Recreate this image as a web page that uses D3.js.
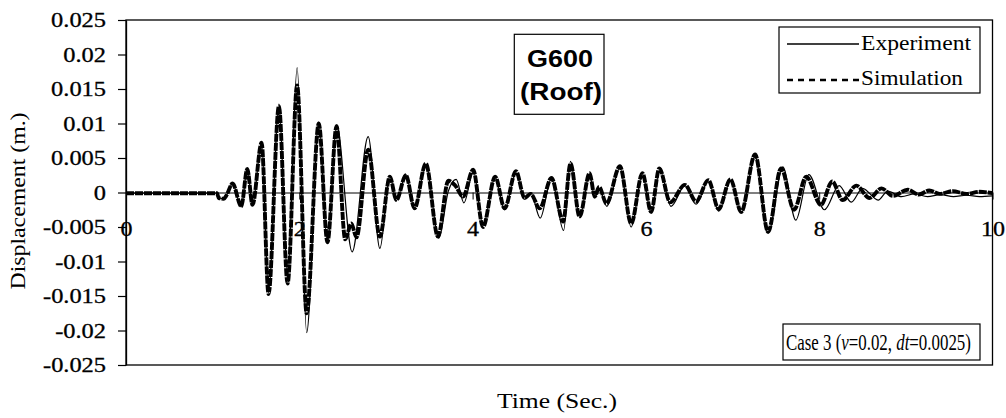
<!DOCTYPE html>
<html>
<head>
<meta charset="utf-8">
<script src="https://cdn.jsdelivr.net/npm/d3@7"></script>
<style>
  html, body { margin: 0; padding: 0; background: #fff; }
  svg { display: block; }
  text { font-family: "Liberation Serif", "Times New Roman", serif; fill: #000; }
</style>
</head>
<body>
<svg id="chart" width="1006" height="418"></svg>
<script>
// ---------- data ----------
const yTickVals = [0.025, 0.02, 0.015, 0.01, 0.005, 0, -0.005, -0.01, -0.015, -0.02, -0.025];
const yTickLabels = ["0.025", "0.02", "0.015", "0.01", "0.005", "0", "-0.005", "-0.01", "-0.015", "-0.02", "-0.025"];
const xTickVals = [0, 2, 4, 6, 8, 10];
const xTickLabels = ["0", "2", "4", "6", "8", "10"];

// Simulation (thick dashed) – turning points
const simTime = [0, 1.05, 1.07, 1.13, 1.16, 1.23, 1.33, 1.40, 1.46, 1.565, 1.645, 1.765, 1.865, 1.975, 2.085,
  2.225, 2.325, 2.43, 2.53, 2.60, 2.66, 2.795, 2.93, 3.045, 3.12, 3.23, 3.33, 3.46, 3.60, 3.72, 3.80, 3.89,
  4.006, 4.12, 4.26, 4.37, 4.50, 4.60, 4.67, 4.775, 4.91, 5.045, 5.13, 5.235, 5.35, 5.41, 5.46, 5.545,
  5.70, 5.83, 5.96, 6.06, 6.155, 6.28, 6.45, 6.58, 6.72, 6.84, 6.975, 7.10, 7.26, 7.41, 7.56, 7.71,
  7.85, 8.02, 8.15, 8.27, 8.43, 8.58, 8.72, 8.85, 9.02, 9.15, 9.27, 9.39, 9.54, 9.70, 9.85, 10];
const simDisp = [-0.0001, -0.0001, -0.0008, -0.0009, -0.0004, 0.0013, -0.0020, 0.0034, -0.0018, 0.0072, -0.0147, 0.0125, -0.0132, 0.0155, -0.0175,
  0.0100, -0.0072, 0.0096, -0.0068, -0.0045, -0.0065, 0.0062, -0.0064, 0.0023, -0.0011, 0.0025, -0.0023, 0.0042, -0.0064, 0.0017, 0.0010, -0.0006,
  0.0033, -0.0050, 0.0023, -0.0023, 0.0031, -0.0008, -0.0002, -0.0023, 0.0021, -0.0042, 0.0042, -0.0035, 0.0028, -0.0006, 0.0008, -0.0016,
  0.0038, -0.0045, 0.0028, -0.0028, 0.0035, -0.0014, 0.0011, -0.0013, 0.0018, -0.0024, 0.0019, -0.0028, 0.0055, -0.0057, 0.0035, -0.0025,
  0.0023, -0.0018, 0.0016, -0.0011, 0.0010, -0.0008, 0.0006, -0.0005, 0.0004, -0.0003, 0.0003, -0.0002, 0.0002, -0.0002, 0.0001, -0.0001];

// Experiment (thin solid)
const expTime = [0, 1.05, 1.07, 1.13, 1.16, 1.23, 1.33, 1.40, 1.46, 1.565, 1.645, 1.765, 1.865, 1.975, 2.085,
  2.225, 2.325, 2.43, 2.61, 2.795, 2.93, 3.045, 3.12, 3.23, 3.33, 3.46, 3.61, 3.72, 3.81, 3.90,
  4.01, 4.12, 4.26, 4.37, 4.50, 4.60, 4.67, 4.78, 4.91, 5.05, 5.13, 5.235, 5.35, 5.41, 5.46, 5.55,
  5.70, 5.83, 5.96, 6.06, 6.16, 6.29, 6.45, 6.58, 6.72, 6.84, 6.98, 7.10, 7.26, 7.41, 7.58, 7.73,
  7.88, 8.06, 8.23, 8.37, 8.50, 8.68, 8.79, 8.95, 9.10, 9.25, 9.40, 9.55, 9.70, 9.85, 10];
const expDisp = [-0.0001, -0.0001, -0.0008, -0.0009, -0.0004, 0.0013, -0.0021, 0.0035, -0.0018, 0.0073, -0.0145, 0.0128, -0.0123, 0.0181, -0.0203,
  0.0102, -0.0074, 0.0098, -0.0086, 0.0081, -0.0081, 0.0024, -0.0012, 0.0026, -0.0024, 0.0040, -0.0066, 0.0002, 0.0019, -0.0015,
  0.0031, -0.0048, 0.0022, -0.0025, 0.0029, -0.0010, 0.0000, -0.0037, 0.0020, -0.0055, 0.0045, -0.0036, 0.0027, -0.0008, 0.0006, -0.0020,
  0.0036, -0.0050, 0.0027, -0.0030, 0.0033, -0.0020, 0.0010, -0.0017, 0.0017, -0.0027, 0.0018, -0.0030, 0.0052, -0.0059, 0.0037, -0.0040,
  0.0026, -0.0025, 0.0010, -0.0014, 0.0006, -0.0011, 0.0002, -0.0006, -0.0002, -0.0006, -0.0003, -0.0006, -0.0004, -0.0006, -0.0005];

const seriesNames = ["Experiment", "Simulation"];
const titleLines = ["G600", "(Roof)"];
const xTitle = "Time (Sec.)";
const yTitle = "Displacement (m.)";

// ---------- layout ----------
const L = 126, R = 992.5, T = 20, B = 365;
const svg = d3.select("#chart");
const x = d3.scaleLinear().domain([0, 10]).range([L, R]);
const y = d3.scaleLinear().domain([-0.025, 0.025]).range([B, T]);

// fit a text horizontally to a target width
function fitX(sel, x0, y0, width, anchor) {
  const w = sel.node().getComputedTextLength();
  const s = width / w;
  const dx = anchor === "middle" ? -width / 2 : 0;
  sel.attr("transform", `translate(${x0 + dx},${y0}) scale(${s},1)`);
}

// frame
svg.append("rect").attr("x", L).attr("y", T).attr("width", R - L).attr("height", B - T)
  .attr("fill", "none").attr("stroke", "#000").attr("stroke-width", 1.3);

// y axis
const yAxis = svg.append("g").attr("transform", `translate(${L},0)`)
  .call(d3.axisLeft(y).tickValues(yTickVals).tickSize(8).tickSizeOuter(0)
    .tickFormat((d, i) => yTickLabels[i]));
yAxis.select(".domain").attr("stroke-width", 1.3);
yAxis.selectAll(".tick line").attr("stroke-width", 1.2);
yAxis.selectAll(".tick text")
  .attr("x", null).attr("dy", "0.34em")
  .attr("text-anchor", "end")
  .attr("transform", "translate(-20,0) scale(1.22,1)")
  .attr("stroke", "#000").attr("stroke-width", 0.3)
  .style("font-family", "'Liberation Serif', serif").style("font-size", "20px");

// x axis on the zero line
const xAxis = svg.append("g").attr("transform", `translate(0,${y(0)})`)
  .call(d3.axisBottom(x).tickValues(xTickVals).tickSize(7).tickSizeOuter(0)
    .tickFormat((d, i) => xTickLabels[i]));
xAxis.select(".domain").attr("stroke-width", 1);
xAxis.selectAll(".tick text")
  .attr("y", null).attr("dy", null)
  .attr("text-anchor", "middle")
  .attr("transform", `translate(0,${236 - y(0)}) scale(1.2,1)`)
  .attr("stroke", "#000").attr("stroke-width", 0.3)
  .style("font-family", "'Liberation Serif', serif").style("font-size", "20px");

// series
const line = d3.line().x(d => x(d[0])).y(d => y(d[1])).curve(d3.curveMonotoneX);
const simData = simTime.map((t, i) => [t, simDisp[i]]);
const expData = expTime.map((t, i) => [t, expDisp[i]]);

svg.append("path").datum(simData).attr("d", line)
  .attr("fill", "none").attr("stroke", "#000").attr("stroke-width", 3.9)
  .attr("stroke-dasharray", "8,1").attr("stroke-linejoin", "round");
svg.append("path").datum(expData).attr("d", line)
  .attr("fill", "none").attr("stroke", "#000").attr("stroke-width", 1.2)
  .attr("stroke-linejoin", "round");

// axis titles
svg.append("text").attr("x", 557).attr("y", 408).attr("text-anchor", "middle")
  .attr("font-size", 20).attr("textLength", 120).attr("lengthAdjust", "spacingAndGlyphs")
  .text(xTitle);
svg.append("text").attr("transform", "translate(25,201) rotate(-90)").attr("text-anchor", "middle")
  .attr("font-size", 20).attr("textLength", 177).attr("lengthAdjust", "spacingAndGlyphs")
  .text(yTitle);

// title box
svg.append("rect").attr("x", 514.3).attr("y", 34.3).attr("width", 89.7).attr("height", 80)
  .attr("fill", "#fff").attr("stroke", "#000").attr("stroke-width", 1.2);
svg.append("text").attr("x", 560).attr("y", 67).attr("text-anchor", "middle")
  .style("font-family", "'Liberation Sans', Arial, sans-serif").attr("font-weight", "bold")
  .attr("font-size", 23).attr("textLength", 66).attr("lengthAdjust", "spacingAndGlyphs")
  .text(titleLines[0]);
svg.append("text").attr("x", 561).attr("y", 100).attr("text-anchor", "middle")
  .style("font-family", "'Liberation Sans', Arial, sans-serif").attr("font-weight", "bold")
  .attr("font-size", 23).attr("textLength", 82).attr("lengthAdjust", "spacingAndGlyphs")
  .text(titleLines[1]);

// legend
const lg = svg.append("g");
lg.append("rect").attr("x", 779).attr("y", 27).attr("width", 201).attr("height", 66)
  .attr("fill", "#fff").attr("stroke", "#000").attr("stroke-width", 1.2);
lg.append("line").attr("x1", 787).attr("x2", 859).attr("y1", 44).attr("y2", 44)
  .attr("stroke", "#000").attr("stroke-width", 1.3);
lg.append("line").attr("x1", 787).attr("x2", 859).attr("y1", 80).attr("y2", 80)
  .attr("stroke", "#000").attr("stroke-width", 2.6).attr("stroke-dasharray", "6,5");
lg.append("text").attr("x", 861).attr("y", 50).attr("font-size", 21)
  .attr("textLength", 110).attr("lengthAdjust", "spacingAndGlyphs").text(seriesNames[0]);
lg.append("text").attr("x", 861).attr("y", 85).attr("font-size", 21)
  .attr("textLength", 102).attr("lengthAdjust", "spacingAndGlyphs").text(seriesNames[1]);

// case box
svg.append("rect").attr("x", 783).attr("y", 324).attr("width", 197).attr("height", 36)
  .attr("fill", "#fff").attr("stroke", "#000").attr("stroke-width", 1.2);
const ct = svg.append("text").attr("font-size", 23);
ct.append("tspan").text("Case 3 (");
ct.append("tspan").attr("font-style", "italic").text("ν");
ct.append("tspan").text("=0.02, ");
ct.append("tspan").attr("font-style", "italic").text("dt");
ct.append("tspan").text("=0.0025)");
fitX(ct, 786, 350, 185, "start");
</script>
</body>
</html>
